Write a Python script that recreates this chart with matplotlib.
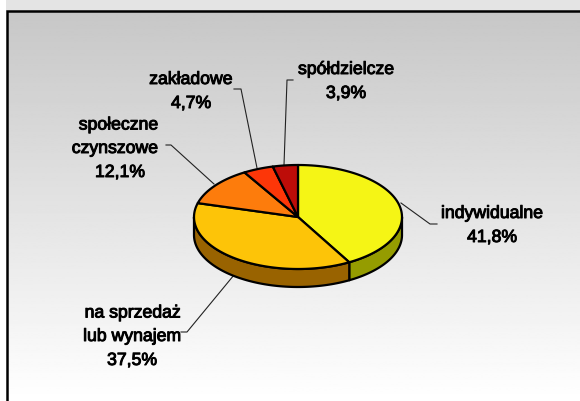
import numpy as np
import matplotlib
matplotlib.use('Agg')
import matplotlib.pyplot as plt
import matplotlib.patheffects as pe

categories = ['indywidualne', 'na sprzedaż\nlub wynajem', 'społeczne\nczynszowe', 'zakładowe', 'spółdzielcze']
values = [41.8, 37.5, 12.1, 4.7, 3.9]
value_labels = ['41,8%', '37,5%', '12,1%', '4,7%', '3,9%']
top_colors = ['#f5f515', '#fdc408', '#fd7c0c', '#fd3608', '#bd0c08']
side_colors = ['#959c00', '#996300', '#996300', '#996300', '#996300']

# pixel positions (centre x, baseline y) for names and percentages
name_pos = [(492, 218), (132, 341), (115, 153), (191, 84), (346, 74)]
value_pos = [(492, 242), (132, 365), (120, 177), (191, 108), (346, 98)]
leaders = [
    [(401, 203), (430, 224), (437, 224)],
    [(234, 275), (187, 332), (181, 332)],
    [(214, 184), (171, 145), (166, 145)],
    [(257, 168), (241, 89), (234, 89)],
    [(284, 165), (287, 80), (293, 80)],
]

cx, cy, rx, ry, depth = 298, 217, 104, 52, 18

fig = plt.figure(figsize=(5.8, 4.01), dpi=100, facecolor='white')
ax = fig.add_axes([0, 0, 1, 1])
ax.set_xlim(0, 580)
ax.set_ylim(401, 0)
ax.axis('off')

# background
ax.fill_between([6, 580], 0, 11, color='#e4e4e4', lw=0, zorder=0)
grad = np.linspace(0.78, 1.0, 256).reshape(-1, 1)
ax.imshow(grad, cmap='gray', vmin=0, vmax=1, extent=[7, 580, 401, 11], aspect='auto', zorder=0)
ax.set_xlim(0, 580)
ax.set_ylim(401, 0)
ax.plot([7, 7, 580], [401, 11, 11], color='black', lw=1.8, solid_joinstyle='miter', zorder=1)

# slices clockwise from 12 o'clock
edges = np.cumsum([0] + values) / sum(values) * 2 * np.pi


def rim(a, b, n=80):
    t = np.linspace(a, b, n)
    return cx + rx * np.sin(t), cy - ry * np.cos(t)


# side wall, only the front half shows
for i in range(len(values)):
    a = max(edges[i], np.pi / 2)
    b = min(edges[i + 1], 3 * np.pi / 2)
    if a >= b:
        continue
    x, y = rim(a, b)
    px = np.concatenate([x, x[::-1]])
    py = np.concatenate([y, y[::-1] + depth])
    ax.fill(px, py, facecolor=side_colors[i], edgecolor='black', lw=1.6, joinstyle='round', zorder=2)

# top
for i in range(len(values)):
    x, y = rim(edges[i], edges[i + 1])
    ax.fill(np.r_[cx, x], np.r_[cy, y], facecolor=top_colors[i], edgecolor='black', lw=1.6, joinstyle='round', zorder=3)

for line in leaders:
    ax.plot(*zip(*line), color='#222222', lw=0.8, zorder=1.5)

stroke = [pe.withStroke(linewidth=0.7, foreground='black')]
style = dict(ha='center', va='baseline', multialignment='right', family='Liberation Sans', fontsize=12.7,
             color='black', linespacing=1.5, path_effects=stroke, zorder=5)
for pos, name in zip(name_pos, categories):
    ax.text(pos[0], pos[1], name, **style)
for pos, val in zip(value_pos, value_labels):
    ax.text(pos[0], pos[1], val, **style)

fig.savefig('out.png', dpi=100)
plt.close()
